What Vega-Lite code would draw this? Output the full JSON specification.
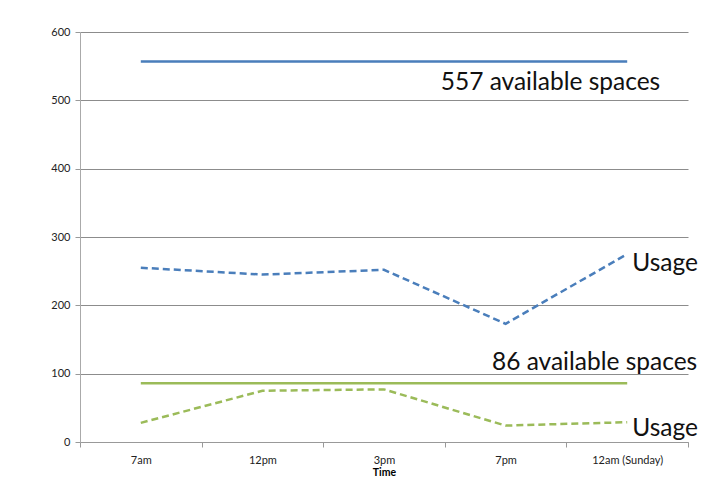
{
  "$schema": "https://vega.github.io/schema/vega-lite/v6.json",
  "autosize": "none",
  "width": 608,
  "height": 410,
  "padding": {"left": 80, "top": 32, "right": 31, "bottom": 38},
  "background": "white",
  "config": {
    "view": {"stroke": null},
    "font": "Lato",
    "axis": {"labelFont": "Lato", "titleFont": "Lato"}
  },
  "datasets": {
    "series": [
      {"time": "7am", "series": "cap557", "value": 557},
      {"time": "12pm", "series": "cap557", "value": 557},
      {"time": "3pm", "series": "cap557", "value": 557},
      {"time": "7pm", "series": "cap557", "value": 557},
      {"time": "12am (Sunday)", "series": "cap557", "value": 557},
      {"time": "7am", "series": "use557", "value": 255},
      {"time": "12pm", "series": "use557", "value": 245},
      {"time": "3pm", "series": "use557", "value": 252},
      {"time": "7pm", "series": "use557", "value": 173},
      {"time": "12am (Sunday)", "series": "use557", "value": 275},
      {"time": "7am", "series": "cap86", "value": 86},
      {"time": "12pm", "series": "cap86", "value": 86},
      {"time": "3pm", "series": "cap86", "value": 86},
      {"time": "7pm", "series": "cap86", "value": 86},
      {"time": "12am (Sunday)", "series": "cap86", "value": 86},
      {"time": "7am", "series": "use86", "value": 28},
      {"time": "12pm", "series": "use86", "value": 75},
      {"time": "3pm", "series": "use86", "value": 77},
      {"time": "7pm", "series": "use86", "value": 24},
      {"time": "12am (Sunday)", "series": "use86", "value": 29}
    ]
  },
  "layer": [
    {
      "data": {"name": "series"},
      "mark": {"type": "line", "strokeWidth": 2.5},
      "encoding": {
        "x": {
          "field": "time", "type": "nominal", "sort": ["7am", "12pm", "3pm", "7pm", "12am (Sunday)"],
          "scale": {"type": "band", "paddingInner": 0, "paddingOuter": 0},
          "axis": {
            "title": "Time", "titleFontSize": 10.5, "titleFontWeight": "bold", "titleColor": "#000", "titlePadding": 2,
            "labelAngle": 0, "labelFontSize": 11, "labelColor": "#222", "labelPadding": 7,
            "tickBand": "extent", "tickSize": 5, "tickColor": "#999", "domainColor": "#999", "grid": false
          }
        },
        "y": {
          "field": "value", "type": "quantitative",
          "scale": {"domain": [0, 600], "nice": false},
          "axis": {
            "title": null, "values": [0, 100, 200, 300, 400, 500, 600], "labelFontSize": 11, "labelColor": "#222",
            "labelPadding": 5, "tickSize": 5, "tickColor": "#999", "domainColor": "#aaa",
            "grid": true, "gridColor": "#8c8c8c", "gridWidth": 1
          }
        },
        "color": {
          "field": "series", "type": "nominal", "legend": null,
          "scale": {"domain": ["cap557", "use557", "cap86", "use86"], "range": ["#4a7ebb", "#4a7ebb", "#9bbb59", "#9bbb59"]}
        },
        "strokeDash": {
          "field": "series", "type": "nominal", "legend": null,
          "scale": {"domain": ["cap557", "use557", "cap86", "use86"], "range": [[1, 0], [7, 4], [1, 0], [7, 4]]}
        }
      }
    },
    {
      "data": {"values": [{"time": "12am (Sunday)", "value": 557, "label": "557 available spaces"}]},
      "mark": {"type": "text", "align": "right", "baseline": "middle", "dx": 33, "dy": 22, "fontSize": 24.5, "color": "#111"},
      "encoding": {
        "x": {"field": "time", "type": "nominal", "sort": ["7am", "12pm", "3pm", "7pm", "12am (Sunday)"]},
        "y": {"field": "value", "type": "quantitative"},
        "text": {"field": "label"}
      }
    },
    {
      "data": {"values": [{"time": "12am (Sunday)", "value": 86, "label": "86 available spaces"}]},
      "mark": {"type": "text", "align": "right", "baseline": "middle", "dx": 70, "dy": -20, "fontSize": 24.5, "color": "#111"},
      "encoding": {
        "x": {"field": "time", "type": "nominal", "sort": ["7am", "12pm", "3pm", "7pm", "12am (Sunday)"]},
        "y": {"field": "value", "type": "quantitative"},
        "text": {"field": "label"}
      }
    },
    {
      "data": {"values": [{"time": "12am (Sunday)", "value": 275, "label": "Usage"}]},
      "mark": {"type": "text", "align": "left", "baseline": "middle", "dx": 5, "dy": 10, "fontSize": 24.5, "color": "#111"},
      "encoding": {
        "x": {"field": "time", "type": "nominal", "sort": ["7am", "12pm", "3pm", "7pm", "12am (Sunday)"]},
        "y": {"field": "value", "type": "quantitative"},
        "text": {"field": "label"}
      }
    },
    {
      "data": {"values": [{"time": "12am (Sunday)", "value": 29, "label": "Usage"}]},
      "mark": {"type": "text", "align": "left", "baseline": "middle", "dx": 5, "dy": 7, "fontSize": 24.5, "color": "#111"},
      "encoding": {
        "x": {"field": "time", "type": "nominal", "sort": ["7am", "12pm", "3pm", "7pm", "12am (Sunday)"]},
        "y": {"field": "value", "type": "quantitative"},
        "text": {"field": "label"}
      }
    }
  ]
}
